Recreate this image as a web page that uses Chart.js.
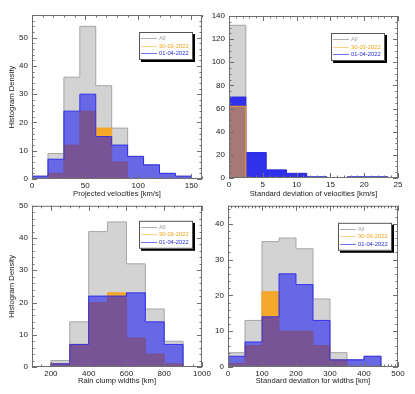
<!DOCTYPE html>
<html>
<head>
<meta charset="utf-8">
<script src="https://cdn.jsdelivr.net/npm/chart.js@4.4.1/dist/chart.umd.min.js"></script>
<style>
  body { margin: 0; background: #fff; width: 415px; height: 394px; position: relative; overflow: hidden; }
  canvas { position: absolute; }
</style>
</head>
<body>
<canvas id="c1" width="212" height="200" style="left:0;top:0"></canvas>
<canvas id="c3" width="215" height="197" style="left:0;top:197px"></canvas>
<canvas id="c2" width="208" height="200" style="left:207px;top:0"></canvas>
<canvas id="c4" width="208" height="197" style="left:207px;top:197px"></canvas>
<script>
const seriesNames = ['All', '30-03-2022', '01-04-2022'];

// projected velocities [km/s]
const velEdges = [0, 15, 30, 45, 60, 75, 90, 105, 120, 135, 150];
const velAll   = [1, 9, 36, 54, 33, 18, 8, 5, 2, 1];
const vel3003  = [0, 2, 12, 24, 18, 6, 0, 0, 0, 0];
const vel0104  = [1, 7, 24, 30, 15, 12, 8, 5, 2, 1];
const velXTicks = [0, 50, 100, 150];
const velYTicks = [0, 10, 20, 30, 40, 50];

// standard deviation of velocities [km/s]
const sdvEdges = [-0.5, 2.5, 5.5, 8.5, 11.5, 14.5, 17.5, 20.5, 23.5];
const sdvAll   = [132, 22, 7, 4, 1, 0, 1, 1];
const sdv3003  = [62, 0, 0, 0, 0, 0, 0, 0];
const sdv0104  = [70, 22, 7, 4, 1, 0, 1, 1];
const sdvXTicks = [0, 5, 10, 15, 20, 25];
const sdvYTicks = [0, 20, 40, 60, 80, 100, 120, 140];

// rain clump widths [km]
const widEdges = [200, 300, 400, 500, 600, 700, 800, 900];
const widAll   = [2, 14, 42, 45, 32, 18, 8];
const wid3003  = [1, 7, 20, 23, 9, 4, 1];
const wid0104  = [1, 7, 22, 22, 23, 14, 7];
const widXTicks = [200, 400, 600, 800, 1000];
const widYTicks = [0, 10, 20, 30, 40, 50];

// standard deviation for widths [km]
const sdwEdges = [0, 50, 100, 150, 200, 250, 300, 350, 400, 450];
const sdwAll   = [4, 13, 35, 36, 33, 19, 4, 2, 3];
const sdw3003  = [1, 6, 21, 10, 10, 6, 2, 0, 0];
const sdw0104  = [3, 7, 14, 26, 23, 13, 2, 2, 3];
const sdwXTicks = [0, 100, 200, 300, 400, 500];
const sdwYTicks = [0, 10, 20, 30, 40];

const FONT = "'Liberation Sans', Arial, sans-serif";

// histogram outline as a stepped line, leading/trailing empty bins dropped
function steps(edges, vals) {
  let i0 = vals.findIndex(v => v > 0);
  let i1 = vals.length - 1;
  while (i1 > 0 && vals[i1] === 0) i1--;
  const pts = [{x: edges[i0], y: 0}];
  for (let i = i0; i <= i1; i++) pts.push({x: edges[i], y: vals[i]});
  pts.push({x: edges[i1 + 1], y: 0});
  return pts;
}

const frame = {
  id: 'frame',
  afterDraw(chart, args, o) {
    const {ctx, chartArea: a, scales: {x, y}} = chart;
    ctx.save();
    ctx.strokeStyle = '#707070';
    ctx.lineWidth = 1;
    ctx.strokeRect(a.left + 0.5, a.top + 0.5, a.width - 1, a.height - 1);
    const mark = (sc, step, len) => {
      for (let v = Math.ceil(sc.min / step) * step; v <= sc.max + 1e-9; v += step) {
        const p = Math.round(sc.getPixelForValue(v)) + 0.5;
        ctx.beginPath();
        if (sc.isHorizontal()) {
          ctx.moveTo(p, a.bottom); ctx.lineTo(p, a.bottom - len);
          ctx.moveTo(p, a.top); ctx.lineTo(p, a.top + len);
        } else {
          ctx.moveTo(a.left, p); ctx.lineTo(a.left + len, p);
          ctx.moveTo(a.right, p); ctx.lineTo(a.right - len, p);
        }
        ctx.stroke();
      }
    };
    mark(x, o.xMinor, 2.5); mark(x, o.xMajor, 5);
    mark(y, o.yMinor, 2.5); mark(y, o.yMajor, 5);

    // legend box with drop shadow
    const w = 54, h = 28;
    const lx = a.right - o.legRight - w, ly = a.top + o.legTop;
    ctx.fillStyle = '#000';
    ctx.fillRect(lx + 2, ly + 2, w, h);
    ctx.fillStyle = '#fff';
    ctx.fillRect(lx, ly, w, h);
    ctx.strokeStyle = '#555';
    ctx.strokeRect(lx + 0.5, ly + 0.5, w - 1, h - 1);
    const lineCols = ['#b0b0b0', '#fbd28a', '#7070f0'];
    const textCols = ['#a0a0a0', '#f2a31c', '#2a2ae6'];
    ctx.font = '5.8px ' + FONT;
    ctx.textBaseline = 'middle';
    seriesNames.forEach((n, i) => {
      const yy = Math.round(ly + 6 + i * 7.5) + 0.5;
      ctx.strokeStyle = lineCols[i];
      ctx.beginPath(); ctx.moveTo(lx + 2, yy); ctx.lineTo(lx + 18, yy); ctx.stroke();
      ctx.fillStyle = textCols[i];
      ctx.fillText(n, lx + 20, yy);
    });
    ctx.restore();
  }
};

function histChart(id, d) {
  const gray = {label: seriesNames[0], data: steps(d.edges, d.all), order: 2,
    backgroundColor: '#d3d3d3', borderColor: '#a6a6a6'};
  const orange = {label: seriesNames[1], data: steps(d.edges, d.a), order: d.orangeTop ? 0 : 1,
    backgroundColor: d.orangeFill, borderColor: '#f2a31c'};
  const blue = {label: seriesNames[2], data: steps(d.edges, d.b), order: d.orangeTop ? 1 : 0,
    backgroundColor: d.blueFill, borderColor: 'rgba(40,40,235,0.9)'};
  [gray, orange, blue].forEach(s => Object.assign(s, {
    stepped: true, fill: 'origin', borderWidth: 1, pointRadius: 0, tension: 0
  }));

  return new Chart(document.getElementById(id), {
    type: 'line',
    data: {datasets: [gray, orange, blue]},
    plugins: [frame],
    options: {
      responsive: false,
      animation: false,
      events: [],
      layout: {padding: d.pad},
      plugins: {
        legend: {display: false},
        tooltip: {enabled: false},
        frame: d.frame
      },
      scales: {
        x: {
          type: 'linear', min: d.xr[0], max: d.xr[1],
          grid: {display: false, drawTicks: false},
          border: {display: false},
          afterBuildTicks: s => { s.ticks = d.xTicks.map(v => ({value: v})); },
          afterFit: s => { s.height = d.xh; },
          ticks: {padding: 2, color: '#222', font: {family: FONT, size: 8}, maxRotation: 0,
            autoSkip: false, callback: v => String(v)},
          title: {display: true, text: d.xTitle, color: '#222', padding: {top: 0, bottom: 2},
            font: {family: FONT, size: 7.6}}
        },
        y: {
          type: 'linear', min: 0, max: d.ymax,
          grid: {display: false, drawTicks: false},
          border: {display: false},
          afterBuildTicks: s => { s.ticks = d.yTicks.map(v => ({value: v})); },
          afterFit: s => { s.width = d.yw; },
          ticks: {padding: 4, color: '#222', font: {family: FONT, size: 8},
            autoSkip: false, callback: v => String(v)},
          title: {display: !!d.yTitle, text: d.yTitle || '', color: '#222', padding: {top: 7, bottom: 0},
            font: {family: FONT, size: 7.7}}
        }
      }
    }
  });
}

const blueSoft = 'rgba(10,10,250,0.53)';

histChart('c1', {
  edges: velEdges, all: velAll, a: vel3003, b: vel0104,
  xr: [0, 160], ymax: 58, xTicks: velXTicks, yTicks: velYTicks,
  xTitle: 'Projected velocities [km/s]', yTitle: 'Histogram Density',
  pad: {left: 0, top: 15, right: 10, bottom: 0}, xh: 21, yw: 32,
  orangeFill: '#f5a82a', blueFill: blueSoft,
  frame: {xMajor: 50, xMinor: 10, yMajor: 10, yMinor: 2, legRight: 9, legTop: 17}
});

histChart('c2', {
  edges: sdvEdges, all: sdvAll, a: sdv3003, b: sdv0104,
  xr: [0, 25], ymax: 140, xTicks: sdvXTicks, yTicks: sdvYTicks,
  xTitle: 'Standard deviation of velocities [km/s]',
  pad: {left: 0, top: 16, right: 17, bottom: 0}, xh: 22, yw: 22,
  orangeFill: 'rgba(245,168,40,0.6)', blueFill: 'rgba(20,20,240,0.85)', orangeTop: true,
  frame: {xMajor: 5, xMinor: 1, yMajor: 20, yMinor: 5, legRight: 13, legTop: 17}
});

histChart('c3', {
  edges: widEdges, all: widAll, a: wid3003, b: wid0104,
  xr: [100, 1000], ymax: 50, xTicks: widXTicks, yTicks: widYTicks,
  xTitle: 'Rain clump widths [km]', yTitle: 'Histogram Density',
  pad: {left: 0, top: 7, right: 13, bottom: 7}, xh: 20, yw: 32,
  orangeFill: '#f5a82a', blueFill: blueSoft,
  frame: {xMajor: 200, xMinor: 50, yMajor: 10, yMinor: 2, legRight: 9, legTop: 15}
});

histChart('c4', {
  edges: sdwEdges, all: sdwAll, a: sdw3003, b: sdw0104,
  xr: [0, 500], ymax: 45, xTicks: sdwXTicks, yTicks: sdwYTicks,
  xTitle: 'Standard deviation for widths [km]',
  pad: {left: 0, top: 7, right: 17, bottom: 7}, xh: 20, yw: 21,
  orangeFill: '#f5a82a', blueFill: blueSoft,
  frame: {xMajor: 100, xMinor: 10, yMajor: 10, yMinor: 2, legRight: 6, legTop: 17}
});
</script>
</body>
</html>
